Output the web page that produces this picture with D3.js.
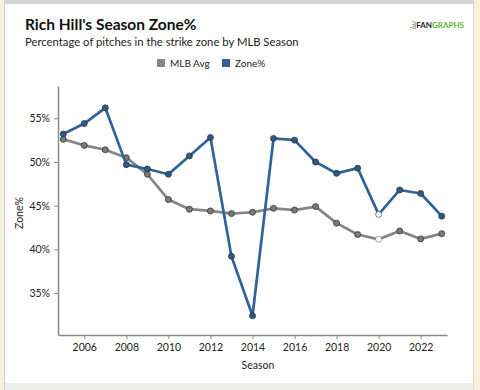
<!DOCTYPE html>
<html><head><meta charset="utf-8">
<script src="https://cdn.jsdelivr.net/npm/d3@7"></script>
<style>
html,body{margin:0;padding:0;background:#fff;}
svg{display:block;font-family:Lato,"Open Sans",sans-serif;}
</style></head>
<body>
<svg id="c" width="480" height="390"></svg>
<script>
const seasons = [2005,2006,2007,2008,2009,2010,2011,2012,2013,2014,2015,2016,2017,2018,2019,2020,2021,2022,2023];
const zonePct = [53.2,54.4,56.2,49.7,49.2,48.6,50.7,52.8,39.2,32.4,52.7,52.5,50.0,48.7,49.3,44.0,46.8,46.4,43.8];
const mlbAvg  = [52.6,51.9,51.4,50.5,48.6,45.7,44.6,44.4,44.1,44.25,44.7,44.5,44.9,43.0,41.7,41.15,42.1,41.2,41.8];
const yTicks = [35,40,45,50,55];
const xTicks = [2006,2008,2010,2012,2014,2016,2018,2020,2022];
const highlightSeason = 2020;

const svg = d3.select("#c");
// frame
svg.append("rect").attr("x",0).attr("y",0).attr("width",480).attr("height",390).attr("fill","#fff");
svg.append("rect").attr("x",0).attr("y",0).attr("width",480).attr("height",4).attr("fill","#d4d4d4");
svg.append("rect").attr("x",0).attr("y",0).attr("width",4).attr("height",390).attr("fill","#f4f2dd");
svg.append("rect").attr("x",4).attr("y",4).attr("width",1).attr("height",386).attr("fill","#cfcfc0");
svg.append("rect").attr("x",474).attr("y",0).attr("width",6).attr("height",390).attr("fill","#f4f2dd");
svg.append("rect").attr("x",473).attr("y",4).attr("width",1).attr("height",386).attr("fill","#dcdcd0");
svg.append("rect").attr("x",5).attr("y",383).attr("width",468).attr("height",7).attr("fill","#eeeeea");

const x = d3.scaleLinear().domain([2004.75,2023.25]).range([58,447]);
const y = d3.scaleLinear().domain([30.2,58.7]).range([335,86]);

// title
svg.append("text").attr("x",25).attr("y",30).attr("font-size",15.5).attr("font-weight","bold").attr("fill","#111").text("Rich Hill's Season Zone%");
svg.append("text").attr("x",25).attr("y",46).attr("font-size",11.3).attr("fill","#222").text("Percentage of pitches in the strike zone by MLB Season");
// logo
const logo = svg.append("text").attr("x",410).attr("y",28).attr("font-size",8).attr("font-weight","bold");
logo.append("tspan").attr("fill","#3b7a1e").text(".⁞|");
logo.append("tspan").attr("fill","#222").text("FAN");
logo.append("tspan").attr("fill","#5cb531").text("GRAPHS");

// legend
const legend = [{name:"MLB Avg",color:"#858585",x:157},{name:"Zone%",color:"#2f6299",x:222}];
legend.forEach(l=>{
  svg.append("rect").attr("x",l.x).attr("y",59).attr("width",8).attr("height",8).attr("fill",l.color);
  svg.append("text").attr("x",l.x+13).attr("y",67).attr("font-size",10).attr("fill","#222").text(l.name);
});

// axes
const yAxis = d3.axisLeft(y).tickValues(yTicks).tickFormat(d=>d+"%").tickSize(4).tickSizeOuter(0);
const gy = svg.append("g").attr("transform","translate(58,0)").call(yAxis);
gy.select(".domain").attr("stroke","#888").attr("stroke-width",1.5);
gy.selectAll(".tick line").attr("stroke","#888");
gy.selectAll(".tick text").attr("font-size",10.5).attr("fill","#222").attr("font-family","Lato,sans-serif").attr("dx",-1);

const xAxis = d3.axisBottom(x).tickValues(xTicks).tickFormat(d3.format("d")).tickSize(4).tickSizeOuter(0);
const gx = svg.append("g").attr("transform","translate(0,335)").call(xAxis);
gx.select(".domain").attr("stroke","#888").attr("stroke-width",1.5);
gx.selectAll(".tick line").attr("stroke","#888");
gx.selectAll(".tick text").attr("font-size",10.5).attr("fill","#222").attr("font-family","Lato,sans-serif").attr("dy","0.9em");

svg.append("text").attr("x",258).attr("y",369).attr("text-anchor","middle").attr("font-size",10.5).attr("fill","#222").text("Season");
svg.append("text").attr("transform","translate(23,213) rotate(-90)").attr("text-anchor","middle").attr("font-size",10.5).attr("fill","#222").text("Zone%");

// series
const series = [
  {vals:mlbAvg,color:"#858585",dot:"#7a7a7a"},
  {vals:zonePct,color:"#2f6299",dot:"#2c5a8c"}
];
const line = d3.line().x((d,i)=>x(seasons[i])).y(d=>y(d));
series.forEach(s=>{
  svg.append("path").datum(s.vals).attr("d",line).attr("fill","none").attr("stroke",s.color).attr("stroke-width",2.7).attr("stroke-linejoin","round");
  svg.selectAll(null).data(s.vals).enter().append("circle")
    .attr("cx",(d,i)=>x(seasons[i])).attr("cy",d=>y(d)).attr("r",3)
    .attr("fill",(d,i)=>seasons[i]===highlightSeason?"#fff":s.dot)
    .attr("stroke",(d,i)=>seasons[i]===highlightSeason?s.color:"#333").attr("stroke-width",0.8);
});
</script>
</body></html>
